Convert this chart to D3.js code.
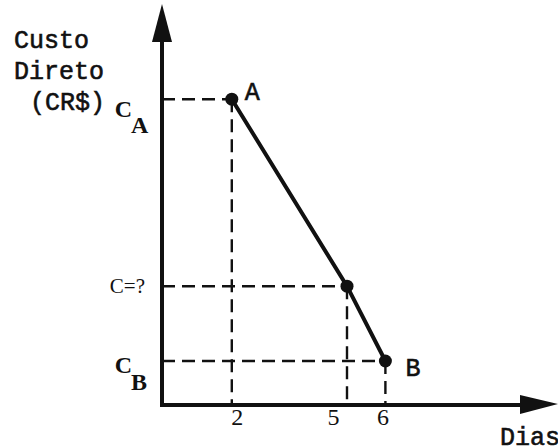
<!DOCTYPE html>
<html>
<head>
<meta charset="utf-8">
<script src="https://cdn.jsdelivr.net/npm/d3@7"></script>
<style>
  body { margin: 0; background: #fff; }
  .mono  { font-family: "Liberation Mono", "DejaVu Sans Mono", monospace; fill: #111; stroke: #111; stroke-width: 0.6; }
  .serif { font-family: "Liberation Serif", "DejaVu Serif", serif; fill: #111; }
  .guide { stroke: #111; stroke-width: 2.4; stroke-dasharray: 13 7; fill: none; }
  .axisline { stroke: #111; stroke-width: 4; }
</style>
</head>
<body>
<div id="viz"></div>
<script>
// data
const days      = [2, 5, 6]            // Dias
const costs     = [6.95, 2.7, 1.0]     // custo direto (relative units)
const pointName = ["A", "", "B"]
const costLabel = [["C", "A"], ["C=?", ""], ["C", "B"]]
const yTitle    = ["Custo", "Direto", "(CR$)"]
const xTitle    = "Dias"

const CONST = { width: 558, height: 447,
                origin: { x: 162, y: 405 },
                font: { mono: 25, serif: 24, small: 21, tick: 24 } }

const svg = d3.select("#viz").append("svg")
    .attr("width", CONST.width)
    .attr("height", CONST.height)

const x = d3.scaleLinear().domain([0, 10]).range([155, 539])
const y = d3.scaleLinear().domain([0, 9]).range([CONST.origin.y, 9])

const O = CONST.origin

// dashed guides (drawn first, under the axes)
days.forEach((d, i) => {
    svg.append("line").attr("class", "guide")
        .attr("x1", O.x).attr("y1", y(costs[i]))
        .attr("x2", x(d)).attr("y2", y(costs[i]))
    svg.append("line").attr("class", "guide")
        .attr("x1", x(d)).attr("y1", y(costs[i]))
        .attr("x2", x(d)).attr("y2", O.y)
})

// axes
svg.append("line").attr("class", "axisline")
    .attr("x1", O.x).attr("y1", O.y + 2).attr("x2", O.x).attr("y2", 30)
svg.append("line").attr("class", "axisline")
    .attr("x1", O.x - 2).attr("y1", O.y).attr("x2", 530).attr("y2", O.y)
svg.append("path")
    .attr("d", `M${O.x},4 L${O.x - 10},42 L${O.x + 10},42 Z`)
    .attr("fill", "#111")
svg.append("path")
    .attr("d", `M558,${O.y - 1} L520,${O.y - 10} L520,${O.y + 9} Z`)
    .attr("fill", "#111")

// tick labels on the day axis (hand-lettered, slightly off the ticks)
const tickShift = [5, -14, -3]
const xAxis = svg.append("g")
    .attr("transform", `translate(0,${O.y})`)
    .call(d3.axisBottom(x).tickValues(days).tickSize(0).tickPadding(3))
xAxis.select(".domain").remove()
xAxis.selectAll("text")
    .attr("dx", (d, i) => tickShift[i])
    .style("font-size", CONST.font.tick + "px")
    .style("font-family", "Liberation Serif, serif")
    .attr("fill", "#111")

// cost line
svg.append("path")
    .datum(days.map((d, i) => [d, costs[i]]))
    .attr("d", d3.line().x(p => x(p[0])).y(p => y(p[1])))
    .attr("stroke", "#111").attr("stroke-width", 4).attr("fill", "none")

svg.selectAll("circle.pt").data(days).join("circle")
    .attr("class", "pt")
    .attr("cx", d => x(d)).attr("cy", (d, i) => y(costs[i]))
    .attr("r", 6.5).attr("fill", "#111")

// point names
const nameOffset = [[13, 1], [0, 0], [20, 15]]
pointName.forEach((n, i) => {
    if (!n) return
    svg.append("text").attr("class", "mono")
        .attr("x", x(days[i]) + nameOffset[i][0])
        .attr("y", y(costs[i]) + nameOffset[i][1])
        .style("font-size", CONST.font.mono + "px")
        .text(n)
})

// cost labels left of the y axis
const labelDy = [[18, 34], [7, 0], [12, 29]]
costLabel.forEach((c, i) => {
    const t = svg.append("text").attr("class", "serif")
    if (c[1]) {
        t.attr("x", 132).attr("y", y(costs[i]) + labelDy[i][0])
            .attr("text-anchor", "end")
            .style("font-size", CONST.font.serif + "px")
            .style("font-weight", "bold")
            .text(c[0])
        svg.append("text").attr("class", "serif")
            .attr("x", 131).attr("y", y(costs[i]) + labelDy[i][1])
            .style("font-size", CONST.font.serif + "px")
            .style("font-weight", "bold")
            .text(c[1])
    } else {
        t.attr("x", 145).attr("y", y(costs[i]) + labelDy[i][0])
            .attr("text-anchor", "end")
            .style("font-size", CONST.font.small + "px")
            .text(c[0])
    }
})

// titles
const titleX = [14, 14, 30]
yTitle.forEach((s, i) => {
    svg.append("text").attr("class", "mono")
        .attr("x", titleX[i]).attr("y", 48 + i * 31)
        .style("font-size", CONST.font.mono + "px")
        .text(s)
})
svg.append("text").attr("class", "mono")
    .attr("x", 500).attr("y", 445)
    .style("font-size", CONST.font.mono + "px")
    .text(xTitle)
</script>
</body>
</html>
